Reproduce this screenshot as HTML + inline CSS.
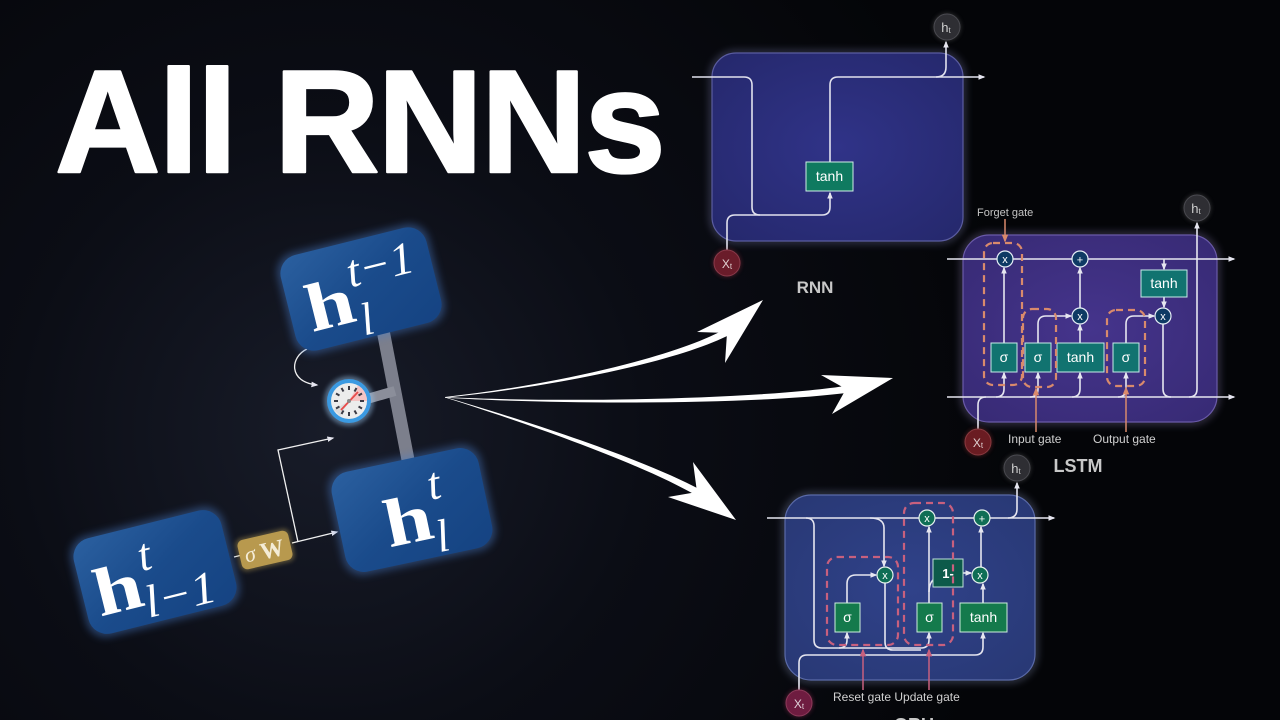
<!DOCTYPE html>
<html><head><meta charset="utf-8"><style>
html,body{margin:0;padding:0;background:#05060a;}
svg{display:block}
</style></head><body>
<svg width="1280" height="720" viewBox="0 0 1280 720" xmlns="http://www.w3.org/2000/svg" font-family="'Liberation Sans', sans-serif">
<defs>
 <radialGradient id="bg" cx="330" cy="430" r="700" gradientUnits="userSpaceOnUse">
  <stop offset="0" stop-color="#181c29"/>
  <stop offset="0.45" stop-color="#0b0d15"/>
  <stop offset="1" stop-color="#040508"/>
 </radialGradient>
 <linearGradient id="box" x1="0" y1="0" x2="1" y2="1">
  <stop offset="0" stop-color="#2b60a0"/>
  <stop offset="0.5" stop-color="#1a4b8b"/>
  <stop offset="1" stop-color="#154382"/>
 </linearGradient>
 <radialGradient id="rnnG" cx="0.5" cy="0.5" r="0.7">
  <stop offset="0" stop-color="#303388"/><stop offset="1" stop-color="#25286c"/>
 </radialGradient>
 <radialGradient id="lstmG" cx="0.5" cy="0.5" r="0.7">
  <stop offset="0" stop-color="#45348c"/><stop offset="1" stop-color="#372a74"/>
 </radialGradient>
 <radialGradient id="gruG" cx="0.5" cy="0.5" r="0.7">
  <stop offset="0" stop-color="#30428a"/><stop offset="1" stop-color="#283874"/>
 </radialGradient>
 <filter id="blur" x="-30%" y="-30%" width="160%" height="160%"><feGaussianBlur stdDeviation="4"/></filter>
 <filter id="blur2" x="-50%" y="-50%" width="200%" height="200%"><feGaussianBlur stdDeviation="2"/></filter>
 <marker id="mw" viewBox="0 0 10 10" refX="8" refY="5" markerWidth="7" markerHeight="7" markerUnits="userSpaceOnUse" orient="auto"><path d="M0,1 L10,5 L0,9 Z" fill="#e6e6f0"/></marker>
 <marker id="mo" viewBox="0 0 10 10" refX="8" refY="5" markerWidth="8" markerHeight="8" markerUnits="userSpaceOnUse" orient="auto"><path d="M0,1 L10,5 L0,9 Z" fill="#d98a6c"/></marker>
 <marker id="mp" viewBox="0 0 10 10" refX="8" refY="5" markerWidth="8" markerHeight="8" markerUnits="userSpaceOnUse" orient="auto"><path d="M0,1 L10,5 L0,9 Z" fill="#c8607e"/></marker>
</defs>

<rect width="1280" height="720" fill="url(#bg)"/>

<!-- Title -->
<text x="55" y="172" font-size="146" font-weight="bold" fill="#ffffff" stroke="#ffffff" stroke-width="2.5" stroke-linejoin="round" letter-spacing="-2">All RNNs</text>

<!-- Big arrows -->
<g fill="#ffffff">
 <path d="M445,397 C559.5,384.1 678.8,355.8 727.3,327.9 L730.7,334.1 C681.2,360.2 560.5,385.9 445,397.8 Z"/>
 <path d="M763,300 L697,332 L727,333 L725,363 Z"/>
 <path d="M445,397 C559.9,403 759.6,399.5 848.5,385.5 L849.5,392.5 C760.4,404.5 560.1,405 445,397.6 Z"/>
 <path d="M893,378 L821,375 L846,389 L832,414 Z"/>
 <path d="M445,397 C520.5,419.1 641.2,457.8 700.7,489.9 L697.3,496.1 C638.8,462.2 519.5,420.9 445,397.5 Z"/>
 <path d="M736,520 L693,462 L697,492 L668,497 Z"/>
</g>

<!-- ================= RNN ================= -->
<rect x="712" y="53" width="251" height="188" rx="24" fill="none" stroke="#9a9cd8" stroke-width="4" opacity="0.45" filter="url(#blur)"/>
<rect x="712" y="53" width="251" height="188" rx="24" fill="url(#rnnG)" stroke="#5a5ca0" stroke-width="1.2"/>
<g fill="none" stroke="#e2e2ee" stroke-width="1.6">
 <path d="M692,77 H744 Q752,77 752,85 V207 Q752,215 760,215 H822 Q830,215 830,207 V193" marker-end="url(#mw)"/>
 <path d="M727,250 V223 Q727,215 735,215 H760"/>
 <path d="M830,162 V85 Q830,77 838,77 H984" marker-end="url(#mw)"/>
 <path d="M936,77 Q946,77 946,67 V42" marker-end="url(#mw)"/>
</g>
<rect x="806" y="162" width="47" height="29" fill="#0f7a60" stroke="#cfeee6" stroke-width="1"/>
<text x="829.5" y="181" font-size="14" fill="#ffffff" text-anchor="middle">tanh</text>
<circle cx="947" cy="27" r="14" fill="#555" opacity="0.5" filter="url(#blur2)"/>
<circle cx="947" cy="27" r="13" fill="#2e2e33" stroke="#4a4a50" stroke-width="1"/>
<text x="946" y="32" font-size="13" fill="#cfcfcf" text-anchor="middle">h<tspan font-size="8" dy="1">t</tspan></text>
<circle cx="727" cy="263" r="14" fill="#8a2a3a" opacity="0.5" filter="url(#blur2)"/>
<circle cx="727" cy="263" r="13" fill="#6a1c2a" stroke="#8a3a4a" stroke-width="1"/>
<text x="727" y="268" font-size="12" fill="#e0d0d0" text-anchor="middle">X<tspan font-size="8" dy="1">t</tspan></text>
<text x="815" y="293" font-size="17" font-weight="bold" fill="#c8c8c8" text-anchor="middle">RNN</text>

<!-- ================= LSTM ================= -->
<rect x="963" y="235" width="254" height="187" rx="26" fill="none" stroke="#b0a0e0" stroke-width="4" opacity="0.45" filter="url(#blur)"/>
<rect x="963" y="235" width="254" height="187" rx="26" fill="url(#lstmG)" stroke="#6a5aa8" stroke-width="1.2"/>
<g fill="none" stroke="#e6e6f0" stroke-width="1.6">
 <path d="M947,259 H1234" marker-end="url(#mw)"/>
 <path d="M947,397 H1234" marker-end="url(#mw)"/>
 <path d="M1004,343 V268" marker-end="url(#mw)"/>
 <path d="M996,397 Q1004,397 1004,389 V373" marker-end="url(#mw)"/>
 <path d="M1030,397 Q1038,397 1038,389 V373" marker-end="url(#mw)"/>
 <path d="M1072,397 Q1080,397 1080,389 V373" marker-end="url(#mw)"/>
 <path d="M1118,397 Q1126,397 1126,389 V373" marker-end="url(#mw)"/>
 <path d="M978,429 V405 Q978,397 986,397"/>
 <path d="M1038,343 V324 Q1038,316 1046,316 H1071" marker-end="url(#mw)"/>
 <path d="M1080,343 V325" marker-end="url(#mw)"/>
 <path d="M1080,308 V268" marker-end="url(#mw)"/>
 <path d="M1126,343 V324 Q1126,316 1134,316 H1154" marker-end="url(#mw)"/>
 <path d="M1164,259 V269" marker-end="url(#mw)"/>
 <path d="M1164,297 V307" marker-end="url(#mw)"/>
 <path d="M1163,324 V389 Q1163,397 1171,397"/>
 <path d="M1189,397 Q1197,397 1197,389 V223" marker-end="url(#mw)"/>
</g>
<g fill="#117370" stroke="#c6ece8" stroke-width="1">
 <rect x="991" y="343" width="26" height="29"/>
 <rect x="1025" y="343" width="26" height="29"/>
 <rect x="1057" y="343" width="47" height="29"/>
 <rect x="1113" y="343" width="26" height="29"/>
 <rect x="1141" y="270" width="46" height="27"/>
</g>
<g fill="#ffffff" font-size="14" text-anchor="middle">
 <text x="1004" y="362">σ</text>
 <text x="1038" y="362">σ</text>
 <text x="1080.5" y="362">tanh</text>
 <text x="1126" y="362">σ</text>
 <text x="1164" y="288">tanh</text>
</g>
<g fill="#0e3a64" stroke="#e6eef6" stroke-width="1.2">
 <circle cx="1005" cy="259" r="8"/>
 <circle cx="1080" cy="259" r="8"/>
 <circle cx="1080" cy="316" r="8"/>
 <circle cx="1163" cy="316" r="8"/>
</g>
<g fill="#ffffff" font-size="11" text-anchor="middle">
 <text x="1005" y="263">x</text>
 <text x="1080" y="263.5">+</text>
 <text x="1080" y="320">x</text>
 <text x="1163" y="320">x</text>
</g>
<g fill="none" stroke="#d98a6c" stroke-width="2.2" stroke-dasharray="7 5">
 <rect x="984" y="243" width="38" height="142" rx="9"/>
 <rect x="1023" y="309" width="33" height="78" rx="9"/>
 <rect x="1107" y="310" width="38" height="76" rx="9"/>
</g>
<g fill="none" stroke="#d98a6c" stroke-width="1.5">
 <path d="M1005,219 V241" marker-end="url(#mo)"/>
 <path d="M1036,432 V389" marker-end="url(#mo)"/>
 <path d="M1126,432 V388" marker-end="url(#mo)"/>
</g>
<text x="977" y="216" font-size="11" fill="#c4c4c4">Forget gate</text>
<text x="1008" y="443" font-size="12" fill="#d0d0d0">Input gate</text>
<text x="1093" y="443" font-size="12" fill="#d0d0d0">Output gate</text>
<circle cx="1197" cy="208" r="14" fill="#555" opacity="0.5" filter="url(#blur2)"/>
<circle cx="1197" cy="208" r="13" fill="#2e2e33" stroke="#4a4a50" stroke-width="1"/>
<text x="1196" y="213" font-size="13" fill="#cfcfcf" text-anchor="middle">h<tspan font-size="8" dy="1">t</tspan></text>
<circle cx="978" cy="442" r="14" fill="#8a2a2a" opacity="0.5" filter="url(#blur2)"/>
<circle cx="978" cy="442" r="13" fill="#6a1c22" stroke="#8a3a40" stroke-width="1"/>
<text x="978" y="447" font-size="12" fill="#e0d0d0" text-anchor="middle">X<tspan font-size="8" dy="1">t</tspan></text>
<text x="1078" y="472" font-size="18" font-weight="bold" fill="#c8c8c8" text-anchor="middle">LSTM</text>

<!-- ================= GRU ================= -->
<rect x="785" y="495" width="250" height="185" rx="26" fill="none" stroke="#a8b8e8" stroke-width="4" opacity="0.45" filter="url(#blur)"/>
<rect x="785" y="495" width="250" height="185" rx="26" fill="url(#gruG)" stroke="#5a6aa8" stroke-width="1.2"/>
<g fill="none" stroke="#e6e6f0" stroke-width="1.6">
 <path d="M767,518 H1054" marker-end="url(#mw)"/>
 <path d="M1008,518 Q1017,518 1017,509 V483" marker-end="url(#mw)"/>
 <path d="M806,518 Q814,518 814,526 V640 Q814,648 822,648 H921 Q929,648 929,640 V633" marker-end="url(#mw)"/>
 <path d="M839,648 Q847,648 847,640 V633" marker-end="url(#mw)"/>
 <path d="M870,518 Q884,518 884,528 V566" marker-end="url(#mw)"/>
 <path d="M847,603 V584 Q847,575 856,575 H876" marker-end="url(#mw)"/>
 <path d="M885,583 V642 Q885,650 893,650 H921"/>
 <path d="M929,603 V527" marker-end="url(#mw)"/>
 <path d="M929,592 Q929,584 933,580"/>
 <path d="M963,573 H971" marker-end="url(#mw)"/>
 <path d="M983,603 V584" marker-end="url(#mw)"/>
 <path d="M981,567 V527" marker-end="url(#mw)"/>
 <path d="M799,690 V663 Q799,655 807,655 H975 Q983,655 983,647 V633" marker-end="url(#mw)"/>
</g>
<g fill="#147a4c" stroke="#cdeedc" stroke-width="1">
 <rect x="835" y="603" width="25" height="29"/>
 <rect x="917" y="603" width="25" height="29"/>
 <rect x="960" y="603" width="47" height="29"/>
</g>
<rect x="933" y="559" width="30" height="28" fill="#0d5a4a" stroke="#bfe0d8" stroke-width="1"/>
<g fill="#ffffff" font-size="14" text-anchor="middle">
 <text x="847.5" y="622">σ</text>
 <text x="929.5" y="622">σ</text>
 <text x="983.5" y="622">tanh</text>
 <text x="948" y="578" font-weight="bold" font-size="13">1-</text>
</g>
<g fill="#0f6e55" stroke="#e6f2ee" stroke-width="1.2">
 <circle cx="927" cy="518" r="8"/>
 <circle cx="982" cy="518" r="8"/>
 <circle cx="885" cy="575" r="8"/>
 <circle cx="980" cy="575" r="8"/>
</g>
<g fill="#ffffff" font-size="11" text-anchor="middle">
 <text x="927" y="522">x</text>
 <text x="982" y="522.5">+</text>
 <text x="885" y="579">x</text>
 <text x="980" y="579">x</text>
</g>
<g fill="none" stroke="#c8607e" stroke-width="2.2" stroke-dasharray="7 5">
 <rect x="827" y="557" width="71" height="88" rx="10"/>
 <rect x="904" y="503" width="49" height="142" rx="10"/>
</g>
<g fill="none" stroke="#c8607e" stroke-width="1.5">
 <path d="M863,690 V650" marker-end="url(#mp)"/>
 <path d="M929,690 V650" marker-end="url(#mp)"/>
</g>
<text x="833" y="701" font-size="12" fill="#d0d0d0">Reset gate Update gate</text>
<circle cx="1017" cy="468" r="14" fill="#555" opacity="0.5" filter="url(#blur2)"/>
<circle cx="1017" cy="468" r="13" fill="#2e2e33" stroke="#4a4a50" stroke-width="1"/>
<text x="1016" y="473" font-size="13" fill="#cfcfcf" text-anchor="middle">h<tspan font-size="8" dy="1">t</tspan></text>
<circle cx="799" cy="703" r="14" fill="#8a2a50" opacity="0.5" filter="url(#blur2)"/>
<circle cx="799" cy="703" r="13" fill="#6e1c40" stroke="#8e3a5a" stroke-width="1"/>
<text x="799" y="708" font-size="12" fill="#e0d0d8" text-anchor="middle">X<tspan font-size="8" dy="1">t</tspan></text>
<text x="914" y="731" font-size="18" font-weight="bold" fill="#c8c8c8" text-anchor="middle">GRU</text>

<!-- ================= Left diagram ================= -->
<line x1="382" y1="325" x2="409" y2="465" stroke="#7c7f8c" stroke-width="13"/>
<line x1="360" y1="401" x2="395" y2="391" stroke="#8b8e9a" stroke-width="10"/>

<g fill="none" stroke="#f0f0f0" stroke-width="1.3">
 <path d="M234,557 L242,555"/>
 <path d="M292,543 L337,532" marker-end="url(#mw)"/>
 <path d="M298,542 L278,450 L333,438" marker-end="url(#mw)"/>
 <path d="M307,349 C290,357 288,382 317,385" marker-end="url(#mw)"/>
</g>

<!-- h_l^{t-1} -->
<g transform="translate(361,289) rotate(-14)">
 <rect x="-78" y="-52" width="156" height="104" rx="20" fill="#4a7cc8" opacity="0.45" filter="url(#blur)"/>
 <rect x="-75" y="-49" width="150" height="98" rx="19" fill="url(#box)"/>
 <g fill="#ffffff" font-family="'Liberation Serif', serif">
  <text x="-58" y="30" font-size="68" font-weight="bold" textLength="48" lengthAdjust="spacingAndGlyphs">h</text>
  <text x="-10" y="-4" font-size="46" font-style="italic" textLength="68" lengthAdjust="spacingAndGlyphs">t−1</text>
  <text x="-8" y="46" font-size="46" font-style="italic">l</text>
 </g>
</g>

<!-- h_l^t -->
<g transform="translate(412,510) rotate(-12)">
 <rect x="-78" y="-54" width="156" height="108" rx="20" fill="#4a7cc8" opacity="0.45" filter="url(#blur)"/>
 <rect x="-75" y="-51" width="150" height="102" rx="19" fill="url(#box)"/>
 <g fill="#ffffff" font-family="'Liberation Serif', serif">
  <text x="-30" y="32" font-size="68" font-weight="bold" textLength="48" lengthAdjust="spacingAndGlyphs">h</text>
  <text x="20" y="-6" font-size="46" font-style="italic">t</text>
  <text x="18" y="47" font-size="46" font-style="italic">l</text>
 </g>
</g>

<!-- h_{l-1}^t -->
<g transform="translate(155,572) rotate(-14)">
 <rect x="-79" y="-52" width="158" height="104" rx="20" fill="#4a7cc8" opacity="0.45" filter="url(#blur)"/>
 <rect x="-76" y="-49" width="152" height="98" rx="19" fill="url(#box)"/>
 <g fill="#ffffff" font-family="'Liberation Serif', serif">
  <text x="-64" y="30" font-size="68" font-weight="bold" textLength="48" lengthAdjust="spacingAndGlyphs">h</text>
  <text x="-13" y="-4" font-size="46" font-style="italic">t</text>
  <text x="-17" y="43" font-size="46" font-style="italic" textLength="72" lengthAdjust="spacingAndGlyphs">l−1</text>
 </g>
</g>

<!-- sigma W -->
<g transform="translate(265,550) rotate(-13)">
 <rect x="-28" y="-17" width="56" height="34" rx="7" fill="#d8b860" opacity="0.35" filter="url(#blur2)"/>
 <rect x="-26" y="-15" width="52" height="30" rx="6" fill="#b8994e"/>
 <text x="-21" y="8" font-family="'Liberation Serif', serif" font-size="22" font-style="italic" fill="#f4ecd6">σ</text>
 <text x="-5" y="9" font-family="'Liberation Serif', serif" font-size="24" font-weight="bold" fill="#f4ecd6">W</text>
</g>

<!-- clock -->
<g transform="translate(349,401)">
 <circle r="25" fill="#9cc8f0" opacity="0.45" filter="url(#blur2)"/>
 <circle r="22" fill="#3b9ae2"/>
 <circle r="18" fill="#ececec"/>
 <path d="M0,0 L9,-15.6 A18,18 0 0 1 18,0 Z" fill="#f4c4c4"/>
 <path d="M0,0 L-15.6,9 A18,18 0 0 1 -9,15.6 Z" fill="#dcdcdc"/>
 <g stroke="#3a3a44" stroke-width="2">
  <line x1="0" y1="-15" x2="0" y2="-11"/>
  <line x1="0" y1="-15" x2="0" y2="-11" transform="rotate(30)"/>
  <line x1="0" y1="-15" x2="0" y2="-11" transform="rotate(60)"/>
  <line x1="0" y1="-15" x2="0" y2="-11" transform="rotate(90)"/>
  <line x1="0" y1="-15" x2="0" y2="-11" transform="rotate(120)"/>
  <line x1="0" y1="-15" x2="0" y2="-11" transform="rotate(150)"/>
  <line x1="0" y1="-15" x2="0" y2="-11" transform="rotate(180)"/>
  <line x1="0" y1="-15" x2="0" y2="-11" transform="rotate(210)"/>
  <line x1="0" y1="-15" x2="0" y2="-11" transform="rotate(240)"/>
  <line x1="0" y1="-15" x2="0" y2="-11" transform="rotate(270)"/>
  <line x1="0" y1="-15" x2="0" y2="-11" transform="rotate(300)"/>
  <line x1="0" y1="-15" x2="0" y2="-11" transform="rotate(330)"/>
 </g>
 <line x1="-8" y1="9" x2="9" y2="-9" stroke="#e84a4a" stroke-width="1.8"/>
 <circle r="2" fill="#888"/>
</g>

</svg>
</body></html>
